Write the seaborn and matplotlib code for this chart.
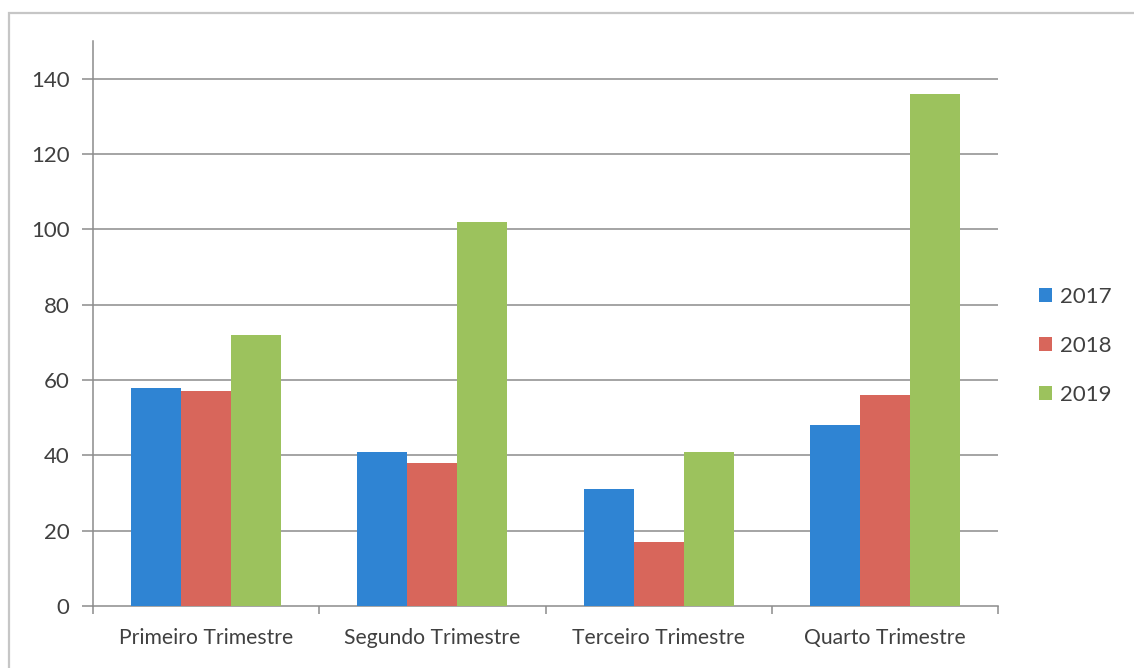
import matplotlib
matplotlib.use("Agg")
import matplotlib.pyplot as plt
import matplotlib.patches as mpatches
import pandas as pd
import seaborn as sns

# Quarterly values per year
trimestres = ["Primeiro Trimestre", "Segundo Trimestre", "Terceiro Trimestre", "Quarto Trimestre"]
anos = ["2017", "2018", "2019"]
valores_2017 = [58, 41, 31, 48]
valores_2018 = [57, 38, 17, 56]
valores_2019 = [72, 102, 41, 136]
yticks = [0, 20, 40, 60, 80, 100, 120, 140]

cores = ["#2F84D3", "#D8665B", "#9CC25D"]

df = pd.DataFrame({
    "trimestre": trimestres * 3,
    "ano": [anos[0]] * 4 + [anos[1]] * 4 + [anos[2]] * 4,
    "valor": valores_2017 + valores_2018 + valores_2019,
})

sns.set_theme(style="white")
plt.rcParams["font.family"] = ["Lato", "DejaVu Sans"]

W, H = 1134, 668
fig = plt.figure(figsize=(W / 100, H / 100), dpi=100)
ax = fig.add_axes([93 / W, 1 - 606 / H, (998 - 93) / W, (606 - 41) / H])

sns.barplot(data=df, x="trimestre", y="valor", hue="ano", order=trimestres,
            hue_order=anos, palette=cores, width=0.664, gap=0,
            saturation=1, legend=False, ax=ax, zorder=3, linewidth=0)

grid_col = "#8c8c8c"
text_col = "#404040"

ax.set_xlim(-0.5, 3.5)
ax.set_ylim(0, 150)
ax.set_yticks(yticks)
ax.set_xlabel("")
ax.set_ylabel("")
for y in yticks[1:]:
    ax.axhline(y, color=grid_col, lw=1.1, zorder=1)

for s in ["top", "right"]:
    ax.spines[s].set_visible(False)
for s in ["left", "bottom"]:
    ax.spines[s].set_color(grid_col)
    ax.spines[s].set_linewidth(1.1)

ax.tick_params(axis="y", which="major", length=8, width=1.1, color=grid_col,
               labelsize=16, labelcolor=text_col, pad=9, left=True)
ax.tick_params(axis="x", which="major", length=0, labelsize=15.2,
               labelcolor=text_col, pad=16)
ax.set_xticks([-0.5, 0.5, 1.5, 2.5, 3.5], minor=True)
ax.tick_params(axis="x", which="minor", length=6, width=1.1, color=grid_col,
               bottom=True)

handles = [mpatches.Patch(facecolor=c, edgecolor="none", label=a)
           for a, c in zip(anos, cores)]
fig.legend(handles=handles, loc="upper left", bbox_to_anchor=(1039 / W, 1 - 287 / H),
           frameon=False, fontsize=16, handlelength=0.6, handleheight=0.6,
           handletextpad=0.35, labelspacing=1.3, labelcolor=text_col,
           borderaxespad=0, borderpad=0)

# outer chart frame
fig.add_artist(mpatches.Rectangle((9 / W, -0.1), 1.2, 1 - 13 / H + 0.1,
                                  transform=fig.transFigure, fill=False,
                                  edgecolor="#c6c6c6", lw=1.6))

fig.savefig("out.png", dpi=100)
